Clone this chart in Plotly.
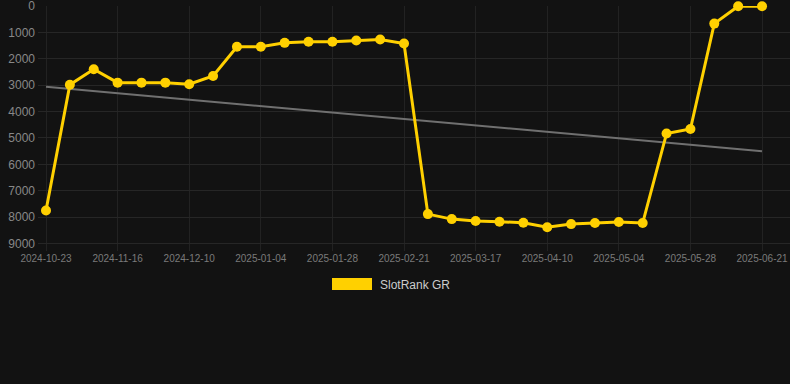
import plotly.graph_objects as go
import pandas as pd

dates = pd.date_range("2024-10-23", periods=31, freq="8D")
ranks = [7750, 2980, 2390, 2900, 2900, 2900, 2960, 2650, 1540, 1540, 1390,
         1350, 1350, 1300, 1265, 1415, 7890, 8080, 8150, 8180, 8215, 8390,
         8270, 8230, 8190, 8230, 4830, 4660, 660, 0, 0]
trend_values = [3060, 5500]
tick_labels = ["2024-10-23", "2024-11-16", "2024-12-10", "2025-01-04", "2025-01-28",
               "2025-02-21", "2025-03-17", "2025-04-10", "2025-05-04", "2025-05-28",
               "2025-06-21"]
y_ticks = [0, 1000, 2000, 3000, 4000, 5000, 6000, 7000, 8000, 9000]
series_name = "SlotRank GR"

gold = "#FFD000"
bg = "#121212"

fig = go.Figure()
fig.add_trace(go.Scatter(
    x=[dates[0], dates[-1]], y=trend_values, mode="lines",
    line=dict(color="#707070", width=2), showlegend=False, hoverinfo="skip"))
fig.add_trace(go.Scatter(
    x=dates, y=ranks, mode="lines+markers", name=series_name,
    line=dict(color=gold, width=3), marker=dict(color=gold, size=10),
    cliponaxis=False, showlegend=False))

fig.update_layout(
    width=790, height=384,
    paper_bgcolor=bg, plot_bgcolor=bg,
    margin=dict(l=38, r=0, t=6, b=133),
    font=dict(family="Arial, Liberation Sans, sans-serif", color="#888"),
    showlegend=False,
)
fig.update_xaxes(
    range=[pd.Timestamp("2024-10-20 07:40"), pd.Timestamp("2025-06-29 09:00")],
    tickvals=list(dates[::3]), ticktext=tick_labels,
    tickfont=dict(size=10, color="#7a7a7a"),
    showgrid=True, gridcolor="#222222", gridwidth=1,
    zeroline=False, showline=False, ticks="", ticklen=0,
    ticklabeloverflow="allow",
)
fig.update_yaxes(
    range=[9290, -8], tickvals=y_ticks,
    tickfont=dict(size=12, color="#888"),
    showgrid=True, gridcolor="#262626", gridwidth=1,
    zeroline=False, showline=False, ticks="", ticklabelstandoff=2,
    ticklabeloverflow="allow",
)

fig.add_shape(type="rect", xref="paper", yref="paper",
              x0=(332 - 38) / 752, x1=(372 - 38) / 752,
              y0=(384 - 133 - 290) / 245, y1=(384 - 133 - 278) / 245,
              fillcolor=gold, line=dict(width=0))
fig.add_annotation(text=series_name, xref="paper", yref="paper",
                   x=(378 - 38) / 752, y=(384 - 133 - 285) / 245,
                   xanchor="left", yanchor="middle", showarrow=False,
                   font=dict(size=12, color="#cccccc"))

fig.write_html(
    "out.html",
    config={"displayModeBar": False},
    post_script="document.body.style.margin='0';document.body.style.background='#121212';",
)
